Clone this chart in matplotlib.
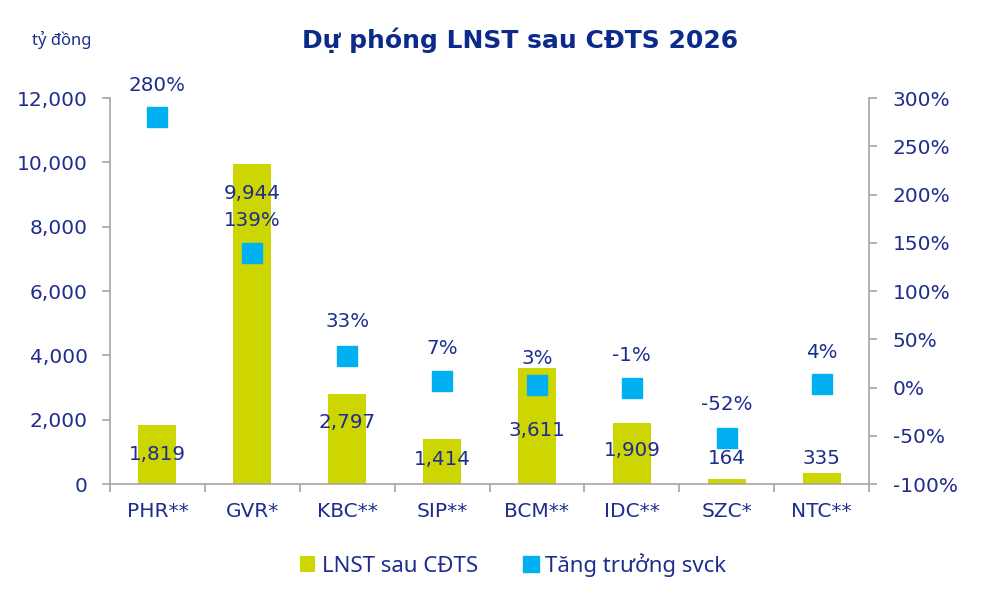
import matplotlib
matplotlib.use("Agg")
import matplotlib.pyplot as plt
from matplotlib.ticker import FuncFormatter, MultipleLocator
from matplotlib.lines import Line2D
from matplotlib.patches import Patch

categories = ["PHR**", "GVR*", "KBC**", "SIP**", "BCM**", "IDC**", "SZC*", "NTC**"]
profit = [1819, 9944, 2797, 1414, 3611, 1909, 164, 335]
growth = [280, 139, 33, 7, 3, -1, -52, 4]

title = "Dự phóng LNST sau CĐTS 2026"
unit_label = "tỷ đồng"
bar_name = "LNST sau CĐTS"
growth_name = "Tăng trưởng svck"

FONT = ["DejaVu Sans"]
plt.rcParams["font.family"] = FONT

NAVY = "#1f2d8f"
TITLE_NAVY = "#0c2a8c"
BAR_C = "#cdd600"
SQ_C = "#00b0f0"
AX_C = "#a6a6a6"

fig = plt.figure(figsize=(10, 5.93), dpi=100)
ax = fig.add_axes([0.110, 0.1838, 0.759, 0.6509])
ax2 = ax.twinx()

x = list(range(len(categories)))
ax.bar(x, profit, width=0.4, color=BAR_C, zorder=2)
ax.set_xlim(-0.5, len(categories) - 0.5)
ax.set_ylim(0, 12000)
ax.yaxis.set_major_locator(MultipleLocator(2000))
ax.yaxis.set_major_formatter(FuncFormatter(lambda v, p: f"{v:,.0f}"))

ax2.plot(x, growth, linestyle="none", marker="s", markersize=14.5,
         color=SQ_C, zorder=3)
ax2.set_ylim(-100, 300)
ax2.yaxis.set_major_locator(MultipleLocator(50))
ax2.yaxis.set_major_formatter(FuncFormatter(lambda v, p: f"{v:.0f}%"))

# category ticks at boundaries
ax.set_xticks([i - 0.5 for i in range(len(categories) + 1)])
ax.set_xticklabels([])
ax.set_xticks(x, minor=True)
ax.set_xticklabels(categories, minor=True)
ax.tick_params(axis="x", which="minor", length=0, pad=13,
               labelsize=14.5, labelcolor=NAVY)
ax.tick_params(axis="x", which="major", length=6, width=1.2, color=AX_C,
               direction="out")
ax.tick_params(axis="y", length=6, width=1.2, color=AX_C, direction="out",
               labelsize=14.5, labelcolor=NAVY, pad=10)
ax2.tick_params(axis="y", length=6, width=1.2, color=AX_C, direction="out",
                labelsize=14.5, labelcolor=NAVY, pad=11)

for a in (ax, ax2):
    a.spines["top"].set_visible(False)
    for s in ("left", "right", "bottom"):
        a.spines[s].set_color(AX_C)
        a.spines[s].set_linewidth(1.2)
ax.spines["right"].set_visible(False)
ax2.spines["left"].set_visible(False)
ax2.spines["bottom"].set_visible(False)

# bar value labels (positions chosen as in the reference layout)
bar_label_y = [902, 9047, 1927, 777, 1648, 1057, 808, 808]
for xi, v, ly in zip(x, profit, bar_label_y):
    ax.text(xi, ly, f"{v:,}", ha="center", va="center", fontsize=14.3,
            color=NAVY, zorder=5)

# growth labels above squares (offset in points)
pct_offsets = [23, 24, 24.5, 23, 19, 24, 24, 22.5]
for xi, g, off in zip(x, growth, pct_offsets):
    ax2.annotate(f"{g}%", (xi, g), xytext=(0, off), textcoords="offset points",
                 ha="center", va="center", fontsize=14.3, color=NAVY, zorder=5)

fig.text(0.52, 0.932, title, ha="center", va="center", fontsize=18,
         fontweight="bold", color=TITLE_NAVY)
fig.text(0.032, 0.932, unit_label, ha="left", va="center", fontsize=12,
         color=NAVY, family=["Noto Sans", "DejaVu Sans"])

handles = [Patch(facecolor=BAR_C, edgecolor="none", label=bar_name),
           Line2D([], [], linestyle="none", marker="s", markersize=11,
                  color=SQ_C, label=growth_name)]
fig.legend(handles=handles, loc="center", bbox_to_anchor=(0.513, 0.047),
           ncol=2, frameon=False, labelcolor=NAVY,
           prop={"family": ["Noto Sans", "DejaVu Sans"], "size": 16},
           handlelength=0.7, handleheight=0.7, handletextpad=0.3,
           columnspacing=2.0)

fig.savefig("out.png", dpi=100)
